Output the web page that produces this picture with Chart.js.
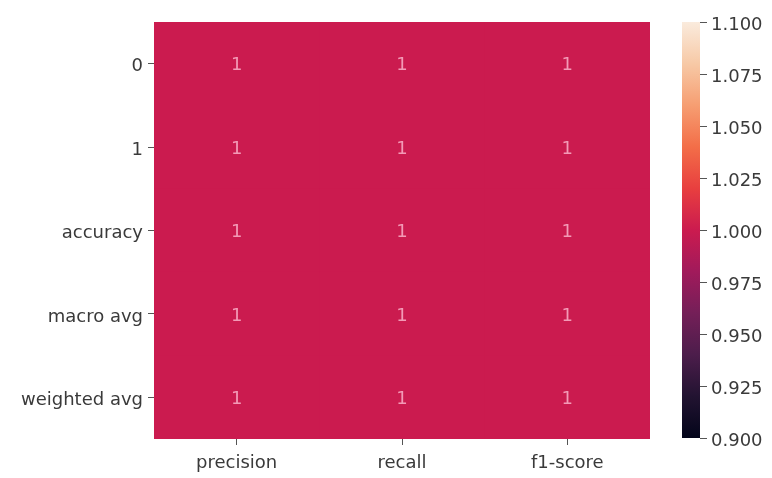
<!DOCTYPE html>
<html>
<head>
<meta charset="utf-8">
<script src="https://cdn.jsdelivr.net/npm/chart.js@4"></script>
<style>
  body { margin: 0; background: #fff; }
  #wrap { position: relative; width: 772px; height: 478px; }
  #heatmap { position: absolute; left: 0; top: 0; }
  #colorbar { position: absolute; left: 600px; top: 0; }
</style>
</head>
<body>
<div id="wrap">
  <canvas id="heatmap" width="772" height="478"></canvas>
  <canvas id="colorbar" width="172" height="478"></canvas>
</div>
<script>
// classification report values
const rowLabels = ['0', '1', 'accuracy', 'macro avg', 'weighted avg'];
const colLabels = ['precision', 'recall', 'f1-score'];
const precision = [1, 1, 1, 1, 1];
const recall = [1, 1, 1, 1, 1];
const f1Score = [1, 1, 1, 1, 1];
const colValues = [precision, recall, f1Score];

// colour scale
const vmin = 0.9;
const vmax = 1.1;
const cbTicks = [0.9, 0.925, 0.95, 0.975, 1.0, 1.025, 1.05, 1.075, 1.1];

const textColor = '#3a3a3a';
const tickColor = '#555555';
const fontFamily = '"DejaVu Sans", sans-serif';

// rocket colormap, approximated
const rocketStops = [
    [0.0, [3, 5, 26]],
    [0.1, [34, 19, 49]],
    [0.2, [76, 29, 75]],
    [0.3, [116, 31, 88]],
    [0.4, [161, 26, 91]],
    [0.5, [203, 27, 79]],
    [0.6, [232, 63, 63]],
    [0.7, [243, 110, 72]],
    [0.8, [246, 158, 114]],
    [0.9, [247, 201, 166]],
    [1.0, [250, 235, 221]]
];

function rocket(t) {
    t = Math.max(0, Math.min(1, t));
    for (let i = 1; i < rocketStops.length; i++) {
        const [t1, c1] = rocketStops[i];
        const [t0, c0] = rocketStops[i - 1];
        if (t <= t1) {
            const f = (t - t0) / (t1 - t0);
            const c = c0.map((v, k) => Math.round(v + (c1[k] - v) * f));
            return `rgb(${c[0]}, ${c[1]}, ${c[2]})`;
        }
    }
    return 'rgb(250, 235, 221)';
}

function valueColor(v) {
    return rocket((v - vmin) / (vmax - vmin));
}

// draw the numbers inside each cell
const annotPlugin = {
    id: 'annot',
    afterDatasetsDraw(chart) {
        const ctx = chart.ctx;
        ctx.save();
        ctx.font = '18px ' + fontFamily;
        ctx.fillStyle = '#f39ab6';
        ctx.textAlign = 'center';
        ctx.textBaseline = 'middle';
        chart.data.datasets.forEach((ds, di) => {
            chart.getDatasetMeta(di).data.forEach((bar, i) => {
                const p = bar.getCenterPoint();
                ctx.fillText(String(+colValues[di][i].toPrecision(2)), p.x, p.y + 2);
            });
        });
        ctx.restore();
    }
};

const heatmapChart = new Chart(document.getElementById('heatmap'), {
    type: 'bar',
    data: {
        labels: rowLabels,
        datasets: colValues.map((vals, c) => ({
            label: colLabels[c],
            data: vals.map(() => [c, c + 1]),
            backgroundColor: vals.map(valueColor),
            borderWidth: 0,
            barPercentage: 1,
            categoryPercentage: 1,
            grouped: false
        }))
    },
    options: {
        indexAxis: 'y',
        responsive: false,
        animation: false,
        layout: { padding: { top: 22, right: 122, left: 0, bottom: 0 } },
        plugins: {
            legend: { display: false },
            tooltip: { enabled: false }
        },
        scales: {
            x: {
                type: 'linear',
                min: 0,
                max: colLabels.length,
                afterBuildTicks: (scale) => {
                    scale.ticks = colLabels.map((_, i) => ({ value: i + 0.5 }));
                },
                afterFit: (scale) => { scale.height = 39; },
                ticks: {
                    autoSkip: false,
                    maxRotation: 0,
                    padding: 8,
                    color: textColor,
                    font: { family: fontFamily, size: 18 },
                    callback: (value, index) => colLabels[index]
                },
                grid: { drawOnChartArea: false, tickLength: 6, color: tickColor },
                border: { display: false }
            },
            y: {
                afterFit: (scale) => { scale.width = 154; },
                ticks: {
                    padding: 5,
                    labelOffset: 3,
                    color: textColor,
                    font: { family: fontFamily, size: 18 }
                },
                grid: { drawOnChartArea: false, offset: false, tickLength: 6, color: tickColor },
                border: { display: false }
            }
        }
    },
    plugins: [annotPlugin]
});

// colour bar
function cbGradient(context) {
    const { ctx, chartArea } = context.chart;
    if (!chartArea) return valueColor(1);
    const g = ctx.createLinearGradient(0, chartArea.bottom, 0, chartArea.top);
    rocketStops.forEach(([t]) => g.addColorStop(t, rocket(t)));
    return g;
}

const colorbarChart = new Chart(document.getElementById('colorbar'), {
    type: 'bar',
    data: {
        labels: [''],
        datasets: [{
            data: [[vmin, vmax]],
            backgroundColor: cbGradient,
            borderWidth: 0,
            barPercentage: 1,
            categoryPercentage: 1
        }]
    },
    options: {
        responsive: false,
        animation: false,
        layout: { padding: { top: 22, left: 82, right: 0, bottom: 40 } },
        plugins: {
            legend: { display: false },
            tooltip: { enabled: false }
        },
        scales: {
            x: { display: false },
            y: {
                position: 'right',
                min: vmin,
                max: vmax,
                afterBuildTicks: (scale) => {
                    scale.ticks = cbTicks.map(v => ({ value: v }));
                },
                afterFit: (scale) => { scale.width = 72; },
                ticks: {
                    padding: 4,
                    labelOffset: 3,
                    color: textColor,
                    font: { family: fontFamily, size: 18 },
                    callback: (value) => value.toFixed(3)
                },
                grid: { drawOnChartArea: false, tickLength: 7, color: tickColor },
                border: { display: false }
            }
        }
    }
});
</script>
</body>
</html>
